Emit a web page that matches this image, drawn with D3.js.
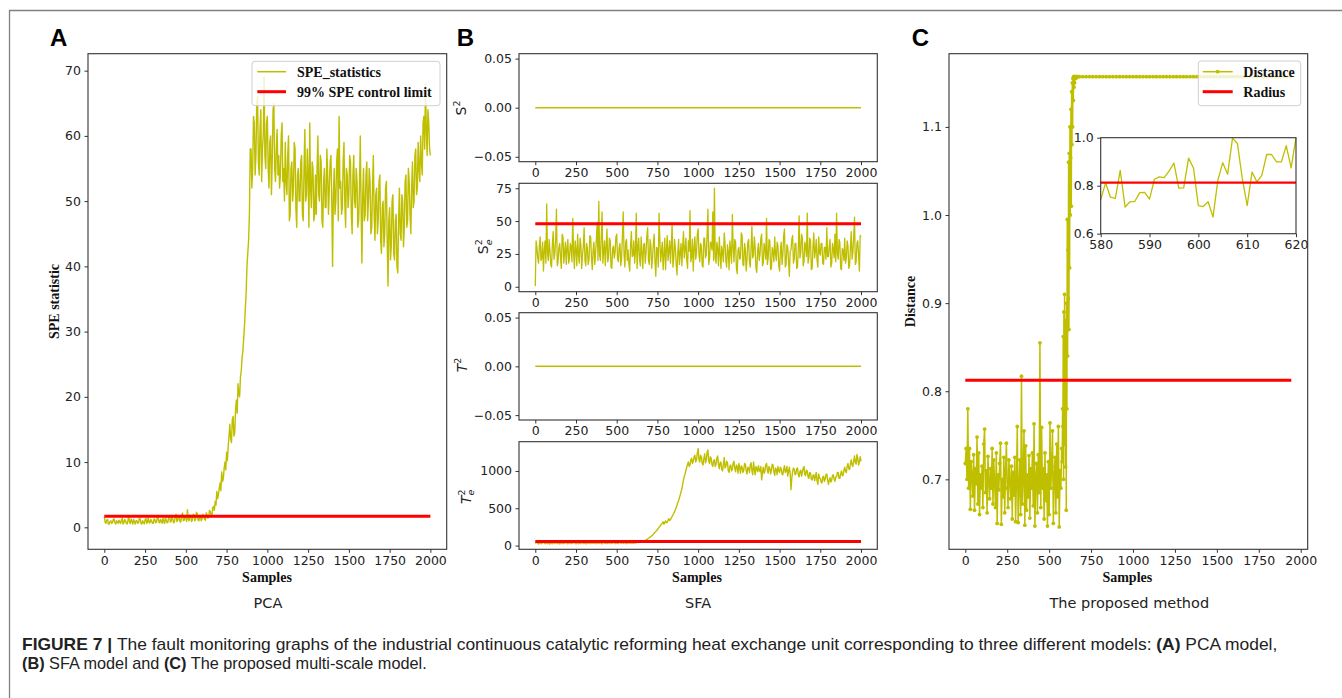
<!DOCTYPE html>
<html>
<head>
<meta charset="utf-8">
<script src="https://cdn.jsdelivr.net/npm/d3@7"></script>
<style>
  body { margin: 0; background: #fff; }
  svg text { font-family: "DejaVu Sans", sans-serif; }
</style>
</head>
<body>
<svg id="fig" width="1342" height="698"></svg>
<script>
// ---------- data ----------
const sampleTicks = [0, 250, 500, 750, 1000, 1250, 1500, 1750, 2000];

// PCA: SPE statistic, one value every 5 samples from 0 to 2000
const speStep = 5;
const speValues = [
  1.6, 0.8, 0.6, 1.1, 1.2, 0.5, 0.5, 0.9, 1.0, 0.6, 0.7, 1.2, 1.3, 0.7, 0.5, 1.0, 0.9, 0.6, 1.1, 0.8,
  0.6, 1.1, 1.4, 0.5, 0.7, 1.2, 1.0, 0.6, 0.5, 1.1, 1.8, 0.7, 0.6, 1.3, 0.9, 0.5, 1.2, 0.8, 0.5, 1.0,
  1.0, 0.6, 0.7, 1.4, 1.3, 0.6, 0.5, 1.0, 0.8, 0.5, 1.1, 1.4, 0.6, 0.9, 1.5, 0.7, 0.7, 1.2, 1.0, 0.6,
  0.6, 1.3, 1.2, 0.7, 0.8, 1.5, 1.6, 0.8, 0.7, 1.2, 1.0, 0.6, 1.4, 0.9, 0.6, 1.5, 1.1, 0.7, 0.8, 1.6,
  1.8, 0.8, 0.9, 1.6, 1.3, 0.7, 0.8, 1.7, 2.0, 0.9, 1.0, 1.8, 1.5, 0.8, 0.9, 1.9, 2.2, 1.0, 1.1, 1.7,
  1.4, 0.9, 2.7, 1.2, 1.0, 1.9, 1.6, 0.9, 1.1, 2.0, 1.9, 1.0, 1.2, 2.3, 2.1, 1.1, 1.0, 1.8, 1.5, 1.0,
  1.3, 2.0, 1.8, 1.2, 1.1, 2.2, 2.0, 1.4, 1.5, 2.6, 2.4, 1.9, 1.8, 3.0, 3.2, 2.6, 4.0, 3.4, 5.5, 4.4,
  5.0, 6.0, 6.8, 5.6, 8.5, 7.0, 7.5, 9.0, 10.0, 8.8, 11.5, 10.2, 12.5, 14.0, 15.8, 13.5, 13.0, 16.5, 17.0, 14.0,
  14.5, 18.0, 19.5, 17.5, 22.0, 20.5, 20.0, 23.0, 24.0, 26.0, 27.0, 29.0, 31.0, 33.5, 36.0, 40.0, 42.0, 44.0, 48.0, 58.0,
  58.0, 52.0, 55.0, 63.0, 62.0, 54.0, 57.0, 65.0, 66.0, 56.0, 54.0, 61.0, 64.0, 53.0, 58.0, 60.0, 69.0, 57.0, 55.0, 62.0,
  63.0, 55.0, 52.0, 59.0, 60.0, 51.0, 56.0, 64.0, 65.0, 55.0, 53.0, 58.0, 61.0, 54.0, 57.0, 52.0, 54.0, 60.0, 62.0, 53.0,
  55.0, 50.0, 59.0, 53.0, 51.0, 57.0, 60.0, 47.0, 48.0, 55.0, 56.0, 50.0, 52.0, 59.0, 58.0, 49.0, 46.0, 54.0, 55.0, 50.0,
  50.0, 56.0, 57.0, 48.0, 47.0, 55.0, 61.0, 50.0, 51.0, 58.0, 54.0, 46.0, 62.0, 52.0, 49.0, 56.0, 55.0, 47.0, 48.0, 54.0,
  48.0, 55.0, 60.0, 51.0, 50.0, 57.0, 56.0, 47.0, 46.0, 53.0, 55.0, 49.0, 49.0, 58.0, 54.0, 48.0, 52.0, 56.0, 57.0, 50.0,
  40.0, 51.0, 55.0, 48.0, 50.0, 56.0, 58.0, 47.0, 63.0, 52.0, 53.0, 48.0, 49.0, 56.0, 59.0, 50.0, 46.0, 55.0, 54.0, 49.0,
  51.0, 57.0, 56.0, 48.0, 45.0, 54.0, 57.0, 50.0, 49.0, 55.0, 53.0, 46.0, 47.0, 52.0, 60.0, 49.0, 40.5, 51.0, 55.0, 47.0,
  48.0, 54.0, 56.0, 47.0, 50.0, 55.0, 53.0, 45.0, 46.0, 52.0, 57.0, 48.0, 44.0, 51.0, 52.0, 45.0, 47.0, 53.0, 54.0, 44.0,
  42.0, 49.0, 50.0, 43.0, 45.0, 52.0, 53.0, 44.0, 37.0, 47.0, 49.0, 41.0, 43.0, 50.0, 51.0, 42.0, 41.0, 47.0, 48.0, 40.0,
  39.0, 47.0, 52.0, 45.0, 44.0, 51.0, 50.0, 43.0, 46.0, 53.0, 54.0, 46.0, 47.0, 55.0, 53.0, 48.0, 45.0, 52.0, 56.0, 49.0,
  50.0, 57.0, 58.0, 51.0, 52.0, 59.0, 55.0, 53.0, 60.0, 56.0, 54.0, 62.0, 63.0, 58.0, 68.0, 61.0, 57.0, 64.0, 62.0, 58.0,
  57.0
];
const speLimit = 1.7;
const speTicks = [0, 10, 20, 30, 40, 50, 60, 70];

// SFA: four statistics
const flatSamples = [0, 2000];
const s2Values = [0, 0];
const t2Values = [0, 0];
const zeroTicks = [-0.05, 0, 0.05];

const se2Step = 5;
const se2Values = [
  0.5, 35, 30, 22, 18, 31, 38, 20, 22, 34, 12, 27, 35, 18, 63, 25, 20, 36, 28, 17,
  15, 33, 42, 21, 25, 36, 59, 16, 19, 30, 33, 22, 14, 40, 38, 18, 26, 34, 17, 29,
  36, 18, 22, 33, 30, 19, 52, 27, 14, 35, 28, 16, 40, 25, 18, 37, 32, 14, 24, 31,
  45, 20, 16, 33, 29, 17, 21, 39, 38, 22, 13, 28, 34, 17, 25, 36, 49, 20, 65, 24,
  20, 38, 57, 18, 27, 35, 16, 30, 44, 19, 23, 37, 35, 15, 14, 29, 31, 22, 26, 38,
  40, 21, 19, 30, 33, 16, 22, 39, 57, 25, 15, 34, 36, 20, 28, 17, 12, 31, 42, 23,
  24, 35, 18, 27, 56, 14, 30, 37, 21, 16, 38, 26, 14, 32, 33, 18, 26, 39, 45, 20,
  17, 36, 31, 14, 22, 33, 40, 19, 8, 30, 29, 15, 56, 35, 19, 27, 34, 13, 24, 37,
  13, 28, 39, 20, 27, 35, 18, 31, 48, 15, 21, 36, 30, 18, 9, 26, 36, 17, 25, 33,
  16, 30, 42, 22, 28, 37, 20, 14, 35, 27, 58, 19, 23, 36, 12, 29, 38, 21, 26, 40,
  44, 25, 19, 33, 31, 16, 15, 37, 37, 22, 24, 40, 59, 17, 21, 34, 33, 28, 57, 20,
  75, 22, 18, 34, 29, 16, 38, 25, 14, 31, 26, 19, 41, 33, 20, 15, 32, 27, 13, 35,
  27, 18, 55, 30, 19, 36, 34, 14, 10, 28, 30, 21, 22, 41, 39, 17, 16, 33, 28, 12,
  21, 34, 36, 19, 15, 29, 46, 22, 24, 38, 30, 14, 11, 27, 33, 20, 25, 37, 40, 16,
  18, 33, 29, 21, 52, 17, 22, 36, 35, 13, 14, 30, 27, 19, 38, 25, 20, 34, 31, 16,
  12, 28, 34, 17, 24, 39, 44, 15, 17, 32, 30, 20, 8, 27, 28, 36, 39, 18, 21, 33,
  33, 14, 15, 29, 54, 22, 26, 40, 37, 16, 19, 34, 31, 23, 56, 18, 22, 37, 35, 13,
  14, 30, 41, 22, 27, 36, 20, 15, 38, 26, 24, 33, 33, 18, 17, 30, 30, 21, 45, 23,
  23, 31, 36, 15, 18, 33, 29, 22, 40, 19, 56, 25, 21, 36, 34, 14, 13, 29, 28, 20,
  37, 18, 22, 35, 31, 14, 16, 30, 42, 21, 26, 38, 53, 17, 19, 33, 35, 24, 12, 39,
  38
];
const se2Limit = 48;
const se2Ticks = [0, 25, 50, 75];

const te2Step = 5;
const te2Values = [
  30, 38, 45, 28, 22, 34, 38, 26, 28, 41, 50, 32, 25, 39, 35, 24, 42, 30, 20, 36,
  33, 25, 48, 35, 26, 43, 40, 28, 30, 45, 22, 31, 44, 26, 31, 38, 27, 40, 52, 29,
  24, 37, 36, 27, 41, 33, 28, 44, 46, 30, 23, 38, 34, 25, 39, 31, 26, 42, 48, 27,
  30, 40, 21, 33, 43, 28, 35, 46, 27, 34, 50, 29, 32, 40, 25, 36, 45, 30, 29, 41,
  38, 27, 24, 39, 47, 30, 31, 44, 26, 35, 42, 28, 35, 47, 28, 33, 53, 36, 33, 25,
  40, 32, 27, 43, 49, 31, 34, 45, 30, 37, 44, 29, 25, 41, 38, 30, 46, 35, 32, 47,
  28, 36, 42, 33, 36, 50, 48, 40, 45, 56, 58, 49, 52, 64, 66, 60, 80, 74, 90, 98,
  105, 112, 120, 132, 140, 152, 165, 178, 190, 200, 215, 230, 245, 258, 270, 290, 300, 318, 285, 310,
  330, 305, 310, 340, 360, 335, 345, 370, 390, 410, 430, 455, 480, 510, 540, 575, 600, 640, 680, 720,
  760, 820, 880, 930, 960, 1010, 1050, 1090, 1120, 1060, 1080, 1150, 1170, 1100, 1130, 1190, 1210, 1120, 1150, 1240,
  1300, 1150, 1120, 1210, 1190, 1100, 1080, 1170, 1230, 1110, 1140, 1250, 1280, 1130, 1100, 1190, 1170, 1080, 1060, 1140,
  1150, 1060, 1090, 1170, 1200, 1080, 1030, 1110, 1120, 1020, 1000, 1090, 1180, 1040, 1060, 1130, 1110, 1000, 980, 1070,
  1080, 1000, 1020, 1110, 1130, 1030, 990, 1080, 1060, 970, 1100, 1040, 970, 1070, 1050, 980, 1010, 1100, 1090, 1000,
  960, 1050, 1040, 980, 1080, 1110, 1000, 950, 1120, 1030, 950, 1060, 1030, 990, 1070, 1010, 990, 1060, 880, 980,
  1050, 970, 1000, 1080, 1100, 1010, 970, 1060, 1040, 960, 1010, 1090, 1080, 990, 940, 1040, 1020, 950, 1060, 1000,
  980, 1050, 1030, 960, 950, 1020, 1070, 980, 1000, 1060, 930, 990, 1050, 970, 750, 900, 990, 1040, 1020, 950,
  960, 1030, 1040, 950, 920, 990, 1010, 930, 980, 1040, 1060, 950, 940, 1010, 1000, 920, 900, 980, 970, 890,
  880, 940, 950, 870, 920, 980, 870, 820, 960, 910, 900, 850, 840, 920, 930, 860, 890, 950, 960, 880,
  820, 880, 910, 850, 880, 940, 950, 890, 860, 920, 920, 980, 980, 900, 900, 960, 1000, 940, 940, 1010,
  1050, 990, 980, 1060, 1100, 1030, 1020, 1090, 1150, 1080, 1060, 1140, 1200, 1110, 1090, 1220, 1170, 1080, 1120, 1190,
  1130
];
const te2Limit = 55;
const te2Ticks = [0, 500, 1000];

// proposed method: distance, three sampling segments
const distLowStart = 0, distLowStep = 5;
const distLow = [
  0.718, 0.735, 0.700, 0.780, 0.690, 0.735, 0.666, 0.720, 0.705, 0.681,
  0.728, 0.665, 0.712, 0.695, 0.748, 0.672, 0.730, 0.660, 0.705, 0.690,
  0.715, 0.668, 0.740, 0.757, 0.685, 0.710, 0.662, 0.726, 0.700, 0.678,
  0.712, 0.690, 0.735, 0.672, 0.722, 0.695, 0.668, 0.730, 0.650, 0.705,
  0.688, 0.718, 0.741, 0.649, 0.700, 0.680, 0.725, 0.662, 0.710, 0.741,
  0.690, 0.668, 0.722, 0.700, 0.678, 0.715, 0.655, 0.708, 0.682, 0.725,
  0.652, 0.700, 0.760, 0.651, 0.690, 0.722, 0.660, 0.817, 0.672, 0.700,
  0.755, 0.648, 0.738, 0.665, 0.705, 0.680, 0.727, 0.656, 0.712, 0.690,
  0.730, 0.670, 0.763, 0.647, 0.700, 0.718, 0.662, 0.728, 0.685, 0.855,
  0.668, 0.759, 0.690, 0.712, 0.655, 0.730, 0.676, 0.705, 0.647, 0.720,
  0.660, 0.764, 0.690, 0.715, 0.755, 0.650, 0.700, 0.725, 0.662, 0.740,
  0.680, 0.760, 0.646, 0.710, 0.690, 0.735
];
const distRiseStart = 578, distRiseStep = 2;
const distRise = [
  0.720, 0.780, 0.760, 0.862, 0.700, 0.890, 0.740, 0.910, 0.760, 0.880,
  0.714, 0.870, 0.665, 0.900, 0.780, 0.995, 0.840, 0.960, 0.905, 1.060,
  0.870, 1.070, 0.940, 1.100, 1.000, 1.065, 1.120, 1.010, 1.140, 1.080,
  1.150, 1.100, 1.155, 1.130, 1.157, 1.145, 1.157, 1.150, 1.157, 1.157,
  1.155, 1.157, 1.157, 1.156, 1.157, 1.157
];
const distHighStart = 680, distHighStep = 20;
const distHigh = [
  1.157, 1.157, 1.157, 1.157, 1.157, 1.157, 1.157, 1.157, 1.157, 1.157, 1.157, 1.157, 1.157, 1.157, 1.157, 1.157,
  1.157, 1.157, 1.157, 1.157, 1.157, 1.157, 1.157, 1.157, 1.157, 1.157, 1.157, 1.157, 1.157, 1.157, 1.157, 1.157,
  1.157, 1.157, 1.157, 1.157, 1.157, 1.157, 1.157, 1.157, 1.157, 1.157, 1.157, 1.157, 1.157, 1.157, 1.157, 1.157,
  1.157, 1.157, 1.157, 1.157, 1.157, 1.157, 1.157, 1.157, 1.157, 1.157, 1.157, 1.157, 1.157, 1.157, 1.157, 1.157
];
const radius = 0.8125;
const radiusSamples = [0, 1944];
const distTicks = [0.7, 0.8, 0.9, 1.0, 1.1];

// inset: samples 580..620
const insetStart = 580;
const insetValues = [
  0.741, 0.812, 0.752, 0.747, 0.864, 0.711, 0.733, 0.735, 0.771, 0.772,
  0.744, 0.827, 0.837, 0.834, 0.861, 0.894, 0.790, 0.791, 0.915, 0.874,
  0.717, 0.713, 0.733, 0.669, 0.823, 0.896, 0.848, 0.998, 0.976, 0.830,
  0.717, 0.857, 0.816, 0.843, 0.930, 0.930, 0.899, 0.899, 0.967, 0.874,
  1.0
];
const insetXTicks = [580, 590, 600, 610, 620];
const insetYTicks = [0.6, 0.8, 1.0];

// ---------- drawing ----------
const YELLOW = '#bfbf00';
const RED = '#ff0000';
const SERIF = '"Liberation Serif", "Times New Roman", serif';
const SANS = '"Liberation Sans", Arial, sans-serif';

const svg = d3.select('#fig');

// outer frame of the figure
svg.append('path')
  .attr('d', 'M9.5,698 V10.5 H1342')
  .attr('fill', 'none')
  .attr('stroke', '#808080')
  .attr('stroke-width', 1.3);

function series(values, start, step) {
  return values.map((v, i) => ({ s: start + i * step, v }));
}

function pairs(samples, values) {
  return samples.map((s, i) => ({ s, v: values[i] }));
}

function scales(box, xDomain, yDomain) {
  return {
    x: d3.scaleLinear().domain(xDomain).range([box.left, box.right]),
    y: d3.scaleLinear().domain(yDomain).range([box.bottom, box.top])
  };
}

function drawLine(sc, data, color, width) {
  const line = d3.line().x(d => sc.x(d.s)).y(d => sc.y(d.v));
  return svg.append('path')
    .datum(data)
    .attr('d', line)
    .attr('fill', 'none')
    .attr('stroke', color)
    .attr('stroke-width', width)
    .attr('stroke-linejoin', 'round');
}

function drawFrame(box, sc, xTicks, yTicks, xFmt, yFmt) {
  const g = svg.append('g').attr('color', '#333');
  const xa = g.append('g')
    .attr('transform', `translate(0,${box.bottom})`)
    .call(d3.axisBottom(sc.x).tickValues(xTicks).tickSize(3.5).tickPadding(3).tickFormat(xFmt));
  const ya = g.append('g')
    .attr('transform', `translate(${box.left},0)`)
    .call(d3.axisLeft(sc.y).tickValues(yTicks).tickSize(3.5).tickPadding(3.5).tickFormat(yFmt));
  [xa, ya].forEach(a => {
    a.select('.domain').remove();
    a.selectAll('text')
      .attr('fill', '#222')
      .style('font-family', '"DejaVu Sans", sans-serif')
      .style('font-size', '12.5px');
  });
  g.append('rect')
    .attr('x', box.left).attr('y', box.top)
    .attr('width', box.right - box.left)
    .attr('height', box.bottom - box.top)
    .attr('fill', 'none')
    .attr('stroke', '#333')
    .attr('stroke-width', 1.1);
}

function axisTitle(text, x, y, rotate) {
  svg.append('text')
    .attr('transform', `translate(${x},${y})` + (rotate ? ' rotate(-90)' : ''))
    .attr('text-anchor', 'middle')
    .attr('dy', '0.35em')
    .style('font-family', SERIF)
    .style('font-weight', 'bold')
    .style('font-size', '14px')
    .attr('fill', '#111')
    .text(text);
}

function plainText(text, x, y, size) {
  svg.append('text')
    .attr('x', x).attr('y', y)
    .attr('text-anchor', 'middle')
    .style('font-size', size + 'px')
    .attr('fill', '#222')
    .text(text);
}

function panelLetter(text, x) {
  svg.append('text')
    .attr('x', x).attr('y', 46)
    .style('font-family', SANS)
    .style('font-weight', 'bold')
    .style('font-size', '24px')
    .attr('fill', '#000')
    .text(text);
}

// math label like S^2 or T_e^2, rotated
function mathLabel(base, italicBase, sub, cx, cy) {
  const t = svg.append('text')
    .attr('transform', `translate(${cx},${cy}) rotate(-90)`)
    .attr('text-anchor', 'middle')
    .attr('y', 5)
    .style('font-size', '14px')
    .attr('fill', '#222');
  t.append('tspan').style('font-style', italicBase ? 'italic' : 'normal').text(base);
  t.append('tspan').attr('dy', -6).style('font-size', '9.5px').text('2');
  if (sub) {
    t.append('tspan').attr('dx', -6).attr('dy', 9.5).style('font-size', '9.5px').style('font-style', 'italic').text(sub);
  }
}

const fmtInt = d3.format('d');

// ----- panel A -----
const boxA = { left: 88, right: 446.7, top: 53.7, bottom: 549.3 };
const scA = scales(boxA, [-100, 2100], [-3.37, 72.6]);
drawLine(scA, series(speValues, 0, speStep), YELLOW, 1.4);
drawLine(scA, pairs(flatSamples, [speLimit, speLimit]), RED, 3);
drawFrame(boxA, scA, sampleTicks, speTicks, fmtInt, fmtInt);
axisTitle('SPE statistic', 54, 301.5, true);
axisTitle('Samples', 267, 576.7, false);
plainText('PCA', 268, 607.5, 14.5);
panelLetter('A', 50);

// legend A
const legA = svg.append('g');
legA.append('rect')
  .attr('x', 252).attr('y', 61.3).attr('width', 188).attr('height', 44.4)
  .attr('rx', 3)
  .attr('fill', '#fff').attr('fill-opacity', 0.8)
  .attr('stroke', '#d0d0d0');
const legendA = [
  { label: 'SPE_statistics', color: YELLOW, width: 1.5 },
  { label: '99% SPE control limit', color: RED, width: 3 }
];
legendA.forEach((d, i) => {
  const yy = 71.7 + i * 20;
  legA.append('line').attr('x1', 257.3).attr('x2', 286).attr('y1', yy).attr('y2', yy)
    .attr('stroke', d.color).attr('stroke-width', d.width);
  legA.append('text').attr('x', 297).attr('y', yy).attr('dy', '0.35em')
    .style('font-family', SERIF).style('font-weight', 'bold').style('font-size', '14px')
    .attr('fill', '#111').text(d.label);
});

// ----- panel B -----
const bLeft = 519, bRight = 877.3;
const fmt2 = d3.format('.2f');

const boxB1 = { left: bLeft, right: bRight, top: 53.7, bottom: 161.7 };
const scB1 = scales(boxB1, [-100, 2100], [-0.055, 0.055]);
drawLine(scB1, pairs(flatSamples, s2Values), YELLOW, 1.5);
drawFrame(boxB1, scB1, sampleTicks, zeroTicks, fmtInt, fmt2);
mathLabel('S', false, null, 461, 108);

const boxB2 = { left: bLeft, right: bRight, top: 183.3, bottom: 291.7 };
const scB2 = scales(boxB2, [-100, 2100], [-3.75, 78.75]);
drawLine(scB2, series(se2Values, 0, se2Step), YELLOW, 1.3);
drawLine(scB2, pairs(flatSamples, [se2Limit, se2Limit]), RED, 3);
drawFrame(boxB2, scB2, sampleTicks, se2Ticks, fmtInt, fmtInt);
mathLabel('S', false, 'e', 483, 246.7);

const boxB3 = { left: bLeft, right: bRight, top: 312.7, bottom: 420 };
const scB3 = scales(boxB3, [-100, 2100], [-0.055, 0.055]);
drawLine(scB3, pairs(flatSamples, t2Values), YELLOW, 1.5);
drawFrame(boxB3, scB3, sampleTicks, zeroTicks, fmtInt, fmt2);
mathLabel('T', true, null, 461.5, 365);

const boxB4 = { left: bLeft, right: bRight, top: 441.7, bottom: 549.3 };
const scB4 = scales(boxB4, [-100, 2100], [-50, 1392]);
drawLine(scB4, series(te2Values, 0, te2Step), YELLOW, 1.4);
drawLine(scB4, pairs(flatSamples, [te2Limit, te2Limit]), RED, 3);
drawFrame(boxB4, scB4, sampleTicks, te2Ticks, fmtInt, fmtInt);
mathLabel('T', true, 'e', 465.5, 496.7);

axisTitle('Samples', 697, 576.7, false);
plainText('SFA', 698, 607.5, 14.5);
panelLetter('B', 456.7);

// ----- panel C -----
const boxC = { left: 949, right: 1307.7, top: 53.7, bottom: 549.3 };
const scC = scales(boxC, [-97.2, 2041.7], [0.6206, 1.1831]);
const distData = series(distLow, distLowStart, distLowStep)
  .concat(series(distRise, distRiseStart, distRiseStep))
  .concat(series(distHigh, distHighStart, distHighStep));
drawLine(scC, distData, YELLOW, 1.5);
svg.append('g').selectAll('circle')
  .data(distData)
  .join('circle')
  .attr('cx', d => scC.x(d.s))
  .attr('cy', d => scC.y(d.v))
  .attr('r', 1.9)
  .attr('fill', YELLOW);
drawLine(scC, pairs(radiusSamples, [radius, radius]), RED, 3);
drawFrame(boxC, scC, sampleTicks, distTicks, fmtInt, d3.format('.1f'));
axisTitle('Distance', 910, 301.5, true);
axisTitle('Samples', 1127.3, 576.7, false);
plainText('The proposed method', 1129.3, 607.5, 14.5);
panelLetter('C', 911.7);

// legend C
const legC = svg.append('g');
legC.append('rect')
  .attr('x', 1198.3).attr('y', 61).attr('width', 102.4).attr('height', 44.7)
  .attr('rx', 3)
  .attr('fill', '#fff').attr('fill-opacity', 0.8)
  .attr('stroke', '#d0d0d0');
legC.append('line').attr('x1', 1202.7).attr('x2', 1232.7).attr('y1', 71.7).attr('y2', 71.7)
  .attr('stroke', YELLOW).attr('stroke-width', 1.5);
legC.append('circle').attr('cx', 1217.7).attr('cy', 71.7).attr('r', 1.9).attr('fill', YELLOW);
legC.append('line').attr('x1', 1202.7).attr('x2', 1232.7).attr('y1', 91.7).attr('y2', 91.7)
  .attr('stroke', RED).attr('stroke-width', 3);
[['Distance', 71.7], ['Radius', 91.7]].forEach(([label, yy]) => {
  legC.append('text').attr('x', 1243.3).attr('y', yy).attr('dy', '0.35em')
    .style('font-family', SERIF).style('font-weight', 'bold').style('font-size', '14px')
    .attr('fill', '#111').text(label);
});

// inset
const boxI = { left: 1100.7, right: 1296, top: 137.7, bottom: 233.7 };
const scI = scales(boxI, [580, 620], [0.6, 1.0]);
svg.append('rect').attr('x', boxI.left).attr('y', boxI.top)
  .attr('width', boxI.right - boxI.left).attr('height', boxI.bottom - boxI.top)
  .attr('fill', '#fff');
drawLine(scI, series(insetValues, insetStart, 1), YELLOW, 1.3);
drawLine(scI, pairs([580, 620], [radius, radius]), RED, 2.2);
drawFrame(boxI, scI, insetXTicks, insetYTicks, fmtInt, d3.format('.1f'));

// ----- caption -----
const cap = svg.append('g');
const capLines = [
  { width: 1256, parts: [['FIGURE 7 | ', true], ['The fault monitoring graphs of the industrial continuous catalytic reforming heat exchange unit corresponding to three different models: ', false], ['(A)', true], [' PCA model,', false]] },
  { width: 405, parts: [['(B)', true], [' SFA model and ', false], ['(C)', true], [' The proposed multi-scale model.', false]] }
];
capLines.forEach((ln, i) => {
  const t = cap.append('text')
    .attr('x', 0).attr('y', 0)
    .style('font-family', SANS)
    .style('font-size', '16px')
    .attr('fill', '#222');
  ln.parts.forEach(([s, b]) => {
    t.append('tspan').style('font-weight', b ? 'bold' : 'normal').text(s);
  });
  const k = ln.width / t.node().getComputedTextLength();
  t.attr('transform', `translate(22,${650 + i * 19}) scale(${k},1)`);
});
</script>
</body>
</html>
